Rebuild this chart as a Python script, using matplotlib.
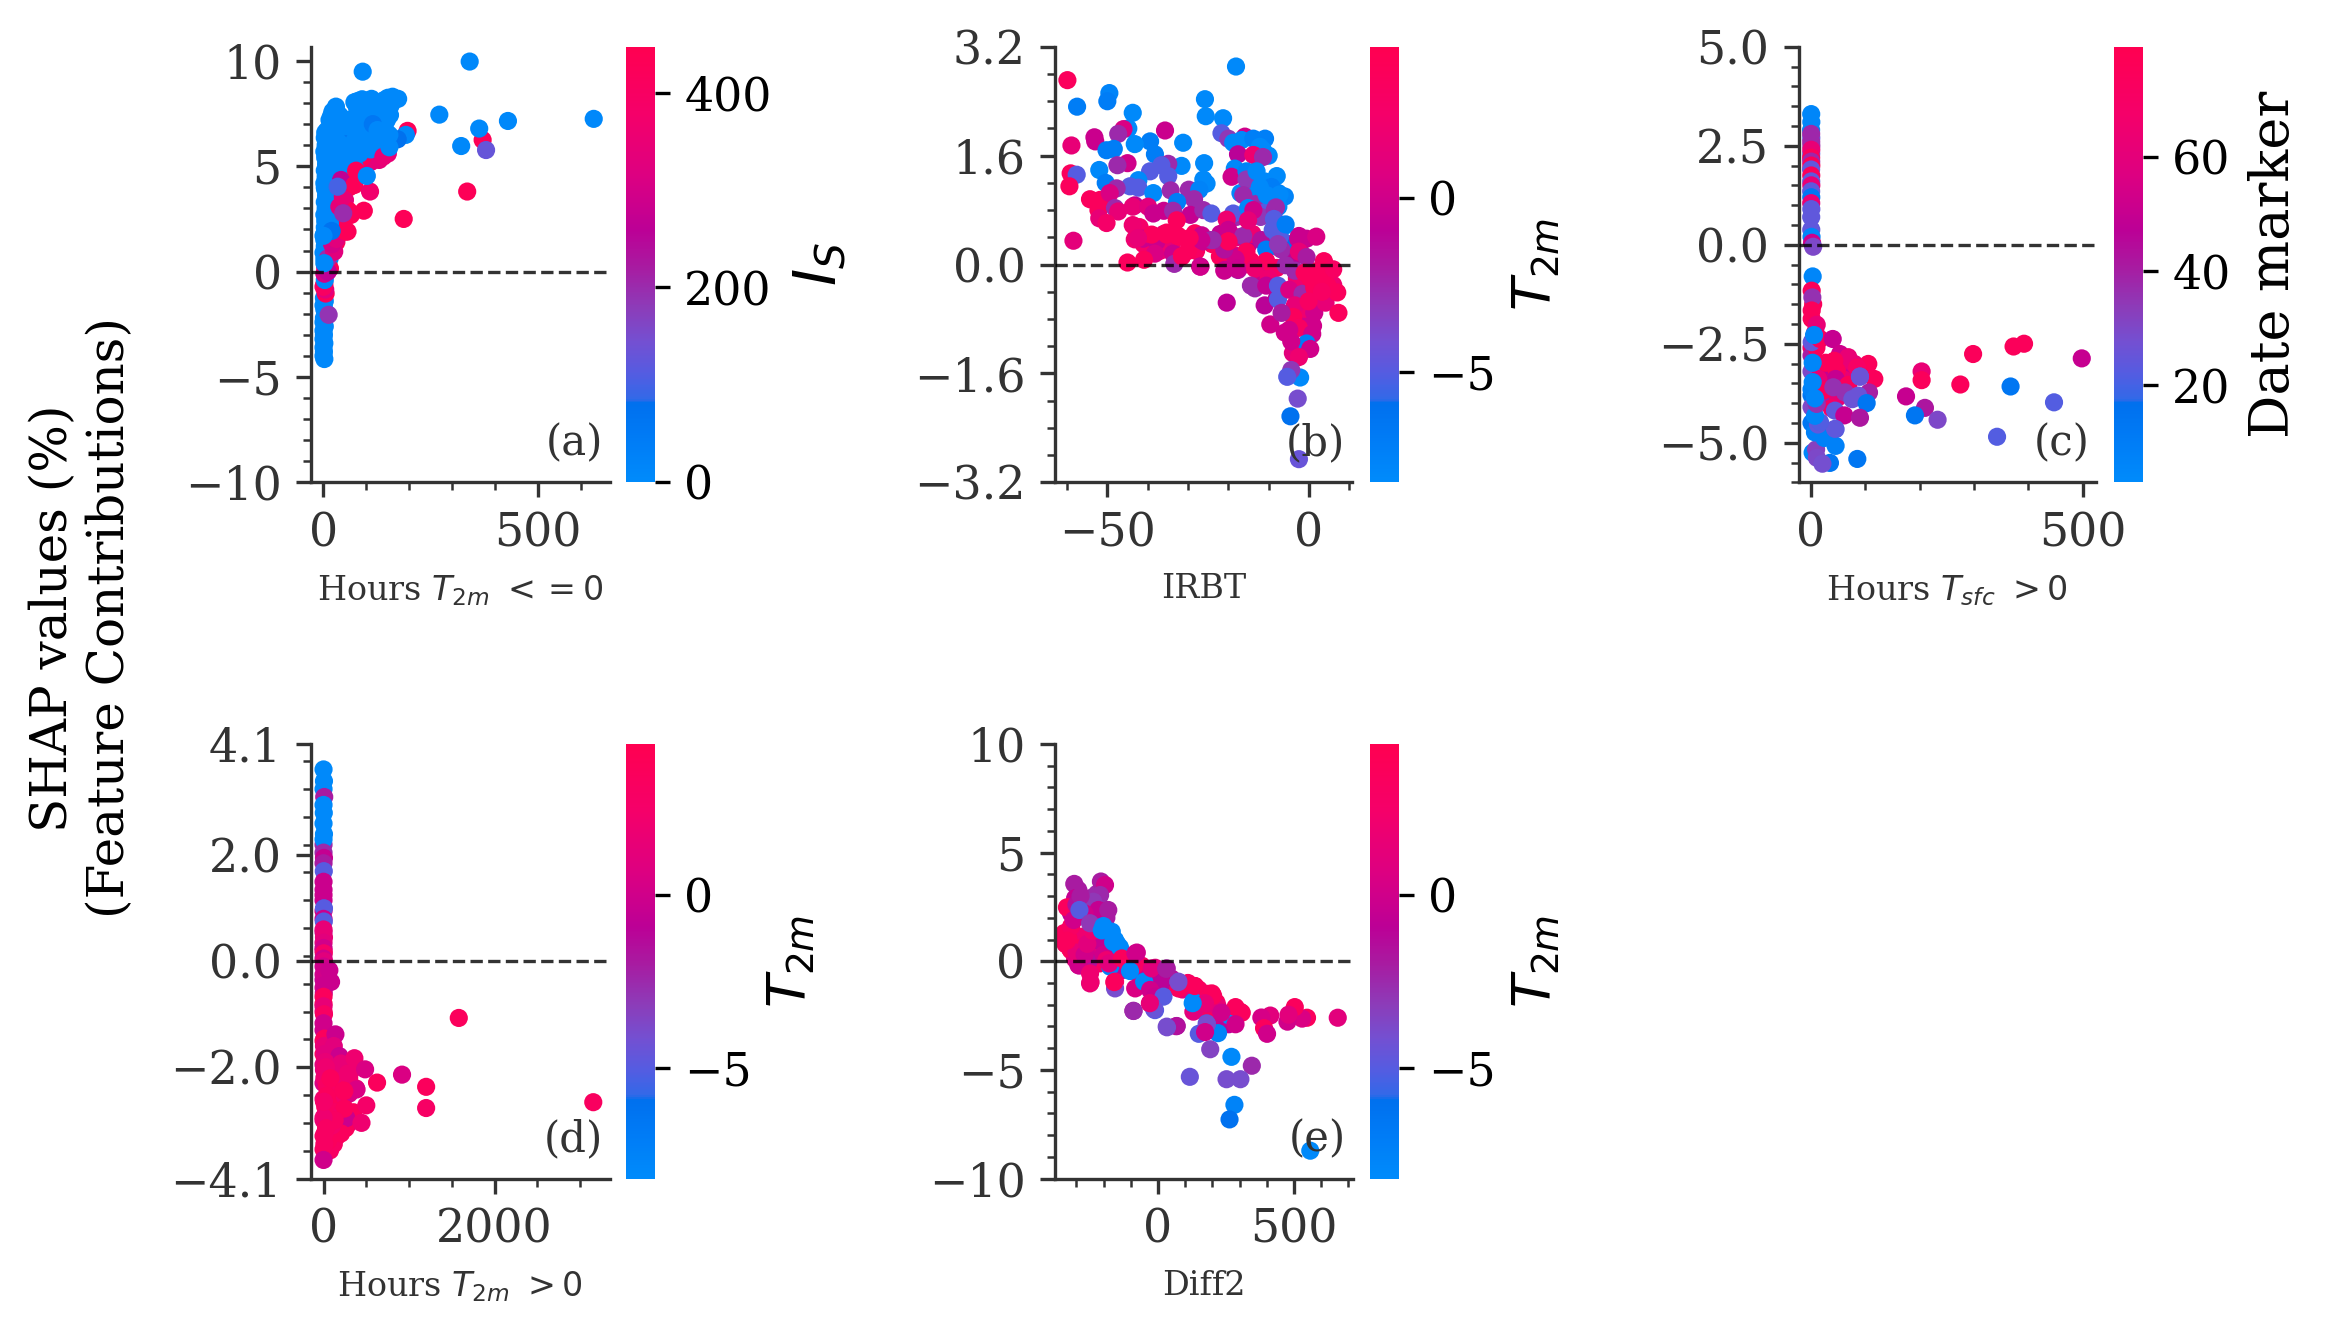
import matplotlib
matplotlib.use('Agg')
import matplotlib.pyplot as plt
from matplotlib.cm import ScalarMappable
from matplotlib.colors import LinearSegmentedColormap, Normalize
from matplotlib.ticker import AutoMinorLocator

plt.rcParams['font.family'] = ['DejaVu Serif']

# (a) Hours T2m <= 0, coloured by Is
a_x = [30, 35, 42, 50, 58, 60, 85, 110, 130, 150,
       90, 70, 60, 14, 15, 16, 15, 17, 18, 20,
       22, 28, 26,
       2, 0, 1, 0, 2, 0, 1, 0, 3, 0,
       1, 2, 0, 3, 1, 4, 2, 0, 3, 2,
       2, 3, 4, 2, 5, 3, 6, 4, 2, 5,
       3, 6, 4, 2, 5, 7, 3, 6, 4, 8,
       5, 3, 7, 10, 6, 4,
       12, 14, 11, 15, 13, 16, 12, 18, 14, 11,
       15, 19, 13, 17, 22, 12, 16, 20, 24, 14,
       18, 15, 21, 25, 17, 29, 31, 37,
       28, 33, 38, 30, 42, 36, 44, 32, 40, 27,
       35, 43, 29, 39, 46, 34, 41, 30, 45, 37,
       50, 56, 62, 68, 52, 58, 66, 72, 48, 55,
       63, 70, 76, 51, 60, 67, 74, 82, 54, 64,
       72, 80, 88, 72, 80, 78, 90,
       84, 92, 100, 108, 96, 104, 112, 120, 88, 98,
       110, 118, 126, 94, 106, 116, 130, 100, 112, 125,
       135, 142, 150, 138, 148, 155, 145, 161, 174, 157,
       12, 5, 4, 2, 0, 3, 2, 4, 15, 10,
       10, 25, 20, 30, 37, 45, 41, 56, 64, 94,
       52, 72, 76, 108.5, 196, 139.6, 187, 335, 371, 379,
       46, 33, 19, 101, 192, 173, 153.6, 115, 126, 153.6,
       91.4, 340.8, 270, 363, 321, 430, 630, 0, 2]
a_y = [1.4, 2.0, 2.2, 3.4, 2.9, 4.5, 5.0, 5.2, 5.3, 5.6,
       5.4, 4.6, 4.0, 0.6, 1.3, 1.8, 2.3, 2.8, 3.2, 3.6,
       4.0, 4.3, 3.8,
       -4.15, -4.0, -3.8, -3.6, -3.4, -3.2, -3.0, -2.8, -2.6, -2.4,
       -2.2, -1.8, -1.6, -1.4, -1.25, 0.3, 0.6, 0.9, 1.2, 1.5,
       1.8, 2.1, 2.4, 2.7, 3.0, 3.3, 3.6, 3.9, 4.2, 4.5,
       4.8, 5.1, 5.4, 5.7, 6.0, 6.2, 6.35, 6.5, 6.6, 6.7,
       5.5, 4.0, 4.7, 6.3, 2.9, 1.0,
       1.0, 1.5, 2.0, 2.5, 3.0, 3.5, 4.0, 4.5, 5.0, 5.5,
       6.0, 6.3, 6.6, 6.9, 7.1, 4.7, 5.3, 5.7, 6.4, 7.2,
       7.4, 6.8, 7.6, 7.5, 7.0, 7.83, 7.55, 7.43,
       4.0, 4.4, 4.8, 5.2, 5.6, 6.0, 6.4, 6.8, 7.1, 5.0,
       5.7, 6.2, 6.6, 6.9, 7.25, 7.2, 5.3, 5.9, 7.0, 4.6,
       5.2, 5.6, 6.0, 6.4, 6.8, 7.2, 7.1, 5.0, 5.5, 6.1,
       6.6, 7.0, 7.4, 7.2, 6.2, 6.7, 7.1, 7.5, 6.9, 5.8,
       6.2, 6.6, 7.0, 8.04, 8.1, 7.8, 8.18,
       5.6, 6.0, 6.4, 6.8, 7.2, 7.6, 8.2, 7.9, 7.4, 8.1,
       5.8, 6.3, 6.8, 7.7, 7.3, 7.0, 6.6, 8.0, 7.5, 6.1,
       7.6, 8.15, 8.25, 6.3, 7.2, 7.43, 6.7, 8.3, 8.2, 7.9,
       -2.05, -1.04, -0.85, -0.6, -0.72, -0.4, -0.1, 0.2, 0.15, 0.0,
       0.63, 0.95, 1.3, 1.55, 3.08, 3.56, 4.35, 1.9, 2.69, 2.89,
       1.9, 4.11, 4.79, 3.80, 6.68, 5.46, 2.50, 3.80, 6.25, 5.77,
       2.77, 4.03, 1.93, 4.54, 6.49, 6.28, 5.9, 7.0, 6.72, 6.49,
       9.49, 9.97, 7.45, 6.79, 5.96, 7.15, 7.25, 1.7, 0.4]
a_c = [430, 430, 430, 340, 430, 430, 340, 340, 340, 340,
       430, 265, 430, 10, 10, 10, 10, 10, 10, 10,
       10, 10, 10,
       10, 10, 10, 10, 10, 10, 10, 10, 10, 10,
       10, 10, 10, 10, 10, 10, 10, 10, 10, 10,
       10, 10, 10, 10, 10, 10, 10, 10, 10, 10,
       10, 10, 10, 10, 10, 10, 10, 10, 10, 10,
       10, 10, 10, 10, 10, 10,
       10, 10, 10, 10, 10, 10, 10, 10, 10, 10,
       10, 10, 10, 10, 10, 10, 10, 10, 10, 10,
       10, 10, 10, 10, 10, 10, 10, 10,
       10, 10, 10, 10, 10, 10, 10, 10, 10, 10,
       10, 10, 10, 10, 10, 10, 10, 10, 10, 10,
       10, 10, 10, 10, 10, 10, 10, 10, 10, 10,
       10, 10, 10, 10, 10, 70, 10, 10, 10, 10,
       10, 10, 10, 10, 10, 10, 10,
       10, 10, 10, 10, 10, 10, 10, 10, 10, 10,
       10, 10, 10, 10, 10, 10, 10, 10, 10, 10,
       10, 10, 10, 10, 10, 10, 10, 10, 10, 10,
       190, 430, 330, 430, 400, 10, 300, 350, 430, 265,
       200, 330, 300, 330, 340, 350, 265, 430, 430, 430,
       430, 430, 430, 370, 430, 350, 430, 430, 430, 130,
       200, 100, 70, 10, 10, 80, 10, 60, 10, 10,
       10, 10, 10, 10, 10, 10, 10, 10, 10]

# (b) IRBT, coloured by T2m
b_x = [-8, -6, -10, -12, -13, -10, -14, -17, -5, -4,
       1, 3, -1, -3, 0, 2, 6, -8, -12, -16,
       -19, -24, -28, -34, -37, -41, -36, -42, -2, -1,
       1, -6, -4, -8, -11, -10, -18, -22, -15, -18,
       -14, -30,
       -59.9, -57.5, -49.5, -50, -43.7, -44.8, -46, -47.3, -53.2, -53,
       -58.9, -35.7, -31.2, -39.4, -38.2, -43.2, -50.2, -48.4, -31.6, -26,
       -45, -47.5, -52, -39.4, -34.9, -36.6, -34.9, -59.1, -57.6, -59.4,
       -50.4, -42.3, -42.3, -44.4, -47.7, -38.6, -34.3, -29.8, -26.2, -25.4,
       -27.2, -28.5, -32.7, -54.3, -51.8, -49.4, -52.2, -48.1, -47.3, -52,
       -50.2, -43.2, -43.7, -39.9, -38.6, -36, -33.7, -29.4, -32.8, -26.2,
       -24.2, -18.8, -20.4, -20, -16.3, -43.7, -43.2, -41.1, -39, -37.8,
       -38.2, -35.3, -32.4, -29.9, -28.3, -26.6, -26.2, -24.2, -20, -20.9,
       -22.1, -17.6, -15.5, -11.8, -7.2, -7.2, -2.7, -2.3, -0.6, -58.4,
       -45, -40.9, -33.7, -31.6, -33.4, -27, -20.9, -17.6,
       -18.1, -25.8, -25.6, -21.3, -21.7, -20, -15.9, -18.8, -16.7, -13.8,
       -10.9, -12.2, -11.4, -17.6, -13.8, -11.4, -18.4, -19.2, -15.5, -15.5,
       -13, -10.9, -9.3, -7.6, -16.3, -10.5, -12.2, -15.1, -13.8, -15.1,
       -8.5, -7.6, -8.5, -6, -9, -10.6, -7.7, -6.8, -2.5, 1.8,
       -2.5, -0.6, 3.7, 6, -5.8, -3.5, -10.6, -14.4, -18.2, -21,
       -17.7, -13.4, -21, -20, -23.9, -26.7, -29.6, -32.4, -35.3, -39,
       -42.4, -31.5, -26.9, -14.4, -13.4, -10.6, -7.7, -7.7, -4.9, -1.6,
       -3.5, -3.9, -9.6, -6.8, 1.3, 4.1, 7, 7.3, 2.7, 1.3,
       4.6, 0.3, -1.1, 1.8, 3.2, -0.1, -20.4, -2.5, -4.9, 0.8,
       -0.6, -4.4, 0.3, -2.5, -2.2, -4.4, -5.4, -2.8, -4.6, -2.5,
       -7.3, -8.2, -8.7, -5.8, -7.7]
b_y = [1.3, 1.0, 0.9, 0.7, 1.0, 1.6, 1.15, 1.05, 0.3, 0.1,
       -0.1, -0.2, -0.25, -0.2, -0.45, -0.5, -0.3, -0.05, -0.15, 0.0,
       0.15, 0.3, 0.2, 0.3, 0.2, 0.3, 0.45, 0.55, -0.85, -0.65,
       -0.9, -1.0, -1.3, -0.5, -0.6, -0.2, 0.4, 0.45, 0.3, 0.7,
       0.45, 0.2,
       2.71, 2.32, 2.52, 2.40, 2.23, 2.0, 1.99, 1.92, 1.87, 1.81,
       1.75, 1.97, 1.79, 1.81, 1.62, 1.77, 1.68, 1.70, 1.45, 1.49,
       1.49, 1.46, 1.39, 1.37, 1.48, 1.46, 1.30, 1.34, 1.32, 1.15,
       1.20, 1.24, 1.13, 1.15, 1.12, 1.05, 1.09, 1.1, 1.25, 1.19,
       1.1, 0.96, 0.92, 0.96, 0.95, 1.05, 0.80, 0.83, 0.78, 0.68,
       0.61, 0.87, 0.85, 0.85, 0.75, 0.79, 0.79, 0.73, 0.65, 0.8,
       0.75, 0.75, 0.66, 0.51, 0.42, 0.58, 0.37, 0.38, 0.43, 0.34,
       0.16, 0.47, 0.41, 0.35, 0.46, 0.43, 0.34, 0.36, 0.34, 0.24,
       0.12, 0.12, 0.19, 0.36, 0.41, 0.24, 0.38, 0.21, 0.38, 0.35,
       0.03, 0.07, 0.16, 0.12, 0.01, -0.03, -0.08, -0.08,
       2.91, 2.43, 2.18, 2.15, 1.93, 1.85, 1.88, 1.79, 1.83, 1.85,
       1.85, 1.73, 1.68, 1.62, 1.61, 1.58, 1.41, 1.29, 1.37, 1.25,
       1.37, 1.22, 1.14, 1.05, 1.02, 1.02, 1.14, 0.83, 0.80, 0.65,
       0.80, 0.85, 0.65, 0.57, 0.51, 0.22, 0.42, 0.22, 0.42, 0.41,
       0.19, 0.11, 0.05, -0.07, -0.01, -0.09, 0.05, 0.05, 0.08, -0.09,
       -0.06, -0.06, 0.22, 0.34, 0.36, 0.36, 0.39, 0.42, 0.44, 0.44,
       0.39, 0.12, -0.03, -0.31, -0.35, -0.31, -0.31, -0.51, -0.37, -0.43,
       -0.60, -0.77, -0.88, -0.71, -0.71, -0.56, -0.41, -0.71, -0.23, -0.34,
       -0.31, -0.20, -0.12, -0.12, -0.40, -0.54, -0.56, -0.93, -0.96, -1.02,
       -1.16, -1.13, -1.24, -1.36, -1.66, -1.55, -1.65, -1.97, -2.23, -2.86,
       1.03, 0.84, 0.67, 0.59, 0.30]
b_c = [-8, -7.5, -5, -3, -2.5, -8, -8, -8, -6, -1,
       3.5, 3.5, 3.5, 2, 3.5, 3, 2, 3, -0.3, 3.5,
       3.5, 3.5, 3, 1.5, 2, 2.5, 1.5, 2.5, 0, 2,
       0, 0, 1, -1, -1, 2, 1, -0.5, -1, -2.5,
       2, 3.5,
       3.5, -7, -7.6, -7, -8, -8, 0.5, -2.5, -0.3, -0.3,
       1.5, -0.3, -8, -7, -7, -8, -7, -7, -8, -8,
       0, -2.5, -8, -5, -2.5, -5, -5, 3.5, -5, 3.5,
       -7, -8, -5, -5, -2.5, -8, -2.5, -2.5, -8, -8,
       -7.5, -2.5, -7, 3.5, 3.5, 0.5, 3.5, -2.5, 1.5, 1.5,
       2.5, -1, 1.5, 1, -0.3, -0.3, -2.5, -0.5, 3.5, -2.5,
       -5, -5, 2, -0.3, -2.5, 2, 2, -0.3, 2, -0.3,
       0.5, 3.5, 3.5, 3.5, 3.5, -0.3, -0.3, -2.5, 3.5, -0.3,
       3.5, -0.3, 3.5, -1.5, -5, -2.5, -0.3, 1.5, -0.3, 1.2,
       3.5, 3.5, -0.3, 3.5, -2.5, -0.3, -0.3, -1.5,
       -8, -8, -8, -8, -5, -3, 0, -8, -8, -7.2,
       -7.2, -8, -8, -1, 2, -2.5, -8, 0, -7.5, -3,
       -8, -8, -7, -7, -2.5, -8, -8, -8, 0, 1.5,
       -2.5, -8, -5, -7.5, -5, -7, -5, -2.5, -0.3, 0.5,
       1.5, -2, 3.5, 3, -2.5, -2.5, 3.5, 3.5, 0, -0.3,
       -0.3, 2, -1.5, 3.5, -2.5, -0.3, 3.5, 3.5, 3.5, 3.5,
       1.5, 3.5, 0, -2.5, -2.5, -0.5, -5, -5, 0.5, -2.5,
       1.5, 3.5, 0, -2, 0, 1.5, 3.5, 3.5, 3.5, 3.5,
       3.5, 3.5, 3.5, 3.5, 3, 3, -0.8, 3, 0, 0,
       -7, 0, 0, 2, -8, -3, -5, -4, -6, -4.5,
       -8, -2.5, -5, -7, -3]

# (c) Hours Tsfc > 0, coloured by the date marker
c_x = [15, 25, 35, 55, 70, 80, 30, 40, 50, 60,
       20, 15, 1, 1, 1, 1, 1, 1, 1, 8,
       4, 10, 30, 50, 70, 3,
       0.4, 0.6, 0.2, 0.5, 0.4, 0.3, 0.6, 0.4, 0.5, 0.3,
       0.4, 0.6, 0.2, 0.5, 0.4, 0.6, 0.3, 0.5, 0.4, 0.6,
       0.4, 0.5, 1.0, 2.0, 4.0,
       3.1, 1.3, 2.5, 1.3, 1.3, 10.5, 1.3, 16.6, 40, 53.4,
       68.7, 79.8, 105.5, 116.6, 43, 27, 47.3, 45.4, 13.5, 85,
       22.7, 68.7, 41.1, 62.6, 90.2, 106.8, 87.1, 76.1, 102.5, 38,
       44.2, 61.4, 90.2, 175, 203.7, 203.7, 209.8, 191.4, 233.1, 298.5,
       373, 392.3, 498.6, 275, 367.5, 447.5, 342.6, 85.3, 45.3, 45.3,
       34.9, 9.4, 10.8, 21, 24.5, 7.3, 12.8, 44.2, 16.6, 7.4,
       10.5, 7.4, 3.1, 5.6, 3.1, 90.2]
c_y = [-3.0, -3.1, -3.2, -3.0, -3.1, -3.25, -3.5, -3.7, -3.55, -3.4,
       -3.75, -3.2, -2.6, -2.8, -3.2, -3.8, -3.65, -4.1, -4.5, -2.2,
       -1.5, -2.6, -3.85, -3.85, -3.7, -5.25,
       3.30, 3.1, 2.9, 2.7, 2.6, 2.8, 2.5, 2.3, 2.4, 2.2,
       2.1, 2.0, 1.9, 1.75, 1.6, 1.5, 1.35, 1.2, 1.05, 0.9,
       0.7, 0.38, 0.2, 0.05, -0.05,
       -0.8, -1.16, -1.33, -1.66, -1.87, -2.02, -2.46, -2.38, -2.38, -2.76,
       -2.84, -3.01, -3.01, -3.39, -2.93, -2.98, -3.18, -3.39, -3.39, -3.1,
       -3.68, -3.54, -3.6, -3.73, -3.33, -3.73, -3.81, -3.9, -4.0, -4.13,
       -4.19, -4.31, -4.37, -3.83, -3.2, -3.42, -4.12, -4.31, -4.42, -2.76,
       -2.57, -2.5, -2.87, -3.53, -3.58, -3.98, -4.85, -5.41, -4.66, -5.08,
       -5.51, -5.17, -5.38, -5.53, -4.88, -4.74, -4.54, -4.65, -4.48, -4.32,
       -4.02, -3.88, -3.47, -2.28, -2.98, -3.33]
c_c = [75, 75, 75, 62, 62, 50, 62, 62, 50, 62,
       75, 50, 70, 40, 30, 14, 8, 30, 14, 70,
       75, 75, 40, 62, 50, 6,
       6, 6, 6, 24, 38, 38, 38, 24, 62, 75,
       38, 75, 24, 75, 24, 62, 24, 14, 62, 24,
       24, 24, 6, 52, 30,
       6, 75, 36, 75, 75, 62, 24, 75, 50, 52,
       62, 62, 75, 75, 75, 75, 75, 50, 62, 70,
       75, 75, 36, 36, 24, 40, 26, 26, 14, 70,
       24, 50, 42, 50, 62, 75, 42, 14, 30, 75,
       75, 75, 50, 75, 14, 22, 22, 14, 22, 8,
       14, 32, 30, 28, 8, 8, 24, 24, 22, 6,
       36, 6, 6, 6, 6, 26]

# (d) Hours T2m > 0, coloured by T2m
d_x = [60, 100, 150, 200, 120, 180, 250, 300, 60, 40,
       90, 140, 190, 300, 350, 260, 30, 80, 120, 160,
       0, 0, 0, 0, 0, 0, 0, 0, 0, 0,
       300, 330, 0, 0, 0, 0,
       0, 5, 0, 8, 0, 3, 0, 5, 0, 0,
       0, 5, 0, 3, 0, 0, 0, 5, 0, 3,
       0, 5, 0, 0, 3, 0, 5, 0, 0, 3,
       0, 0, 68, 88, 10, 0, 0, 5, 0, 0,
       10, 5, 139, 15, 120, 185, 20, 5, 10, 205,
       30, 283, 40, 361, 80, 380, 500, 486, 626, 918,
       1200, 1200, 1582, 3155, 232, 243, 267, 444, 205, 148,
       244, 386, 243, 37, 76, 52, 14, 60, 100, 130,
       20, 0, 10, 30, 5, 0]
d_y = [-1.85, -2.1, -2.3, -2.2, -2.6, -2.7, -2.55, -2.5, -2.4, -2.75,
       -2.85, -3.0, -3.1, -3.05, -2.85, -3.15, -3.2, -3.3, -3.45, -3.3,
       -1.95, -2.3, -2.6, -3.0, -3.3, -3.55, -0.5, -0.35, -1.5, -1.75,
       -2.2, -2.05, 1.25, 0.95, 0.55, 0.2,
       3.62, 3.4, 3.25, 3.1, 2.95, 2.8, 2.6, 2.4, 2.2, 2.3,
       2.05, 1.95, 1.85, 1.7, 1.5, 1.35, 1.15, 1.0, 0.8, 0.75,
       0.6, 0.45, 0.35, 0.25, 0.15, 0.05, 0.0, -0.1, -0.25, -0.6,
       -0.8, -0.95, -0.17, -0.39, -0.45, -0.67, -0.85, -1.0, -1.17, -1.3,
       -1.46, -1.6, -1.38, -1.75, -1.6, -1.79, -1.9, -2.05, -2.2, -1.93,
       -2.0, -2.12, -2.35, -1.83, -2.21, -2.4, -2.72, -2.04, -2.29, -2.14,
       -2.37, -2.77, -1.07, -2.66, -2.44, -2.81, -2.96, -3.05, -3.25, -2.85,
       -2.78, -2.42, -2.45, -2.54, -3.57, -3.39, -3.25, -2.9, -3.1, -3.0,
       -2.75, -2.95, -3.45, -3.15, -2.65, -3.75]
d_c = [1, 2, 3.5, 2, 3, 3.5, 2.5, 0.5, 1.5, 3.5,
       3, 2.5, 3.5, 0, 3.5, 3.5, 3, 3.5, 3, 3,
       1, 0.5, 2, 1.5, 3, 3, 0, -0.5, 3.5, 3.5,
       2.5, 2, 0, 0, 0, 1.5,
       -8, -8, -8, -2, -8, -8, -8, -8, -2.5, -8,
       -2.5, -0.5, -2, -5, -0.3, -0.3, -0.3, -5, -0.3, -5,
       1.5, 1.5, 1, 0, 2.5, 0, 1, 0, 0, 0,
       3.5, 2, -0.3, -0.3, -0.3, 3.5, 1.5, 3, 0, 0,
       3.5, 1.5, -0.3, 1, 1, -0.3, 1.5, 1.5, 2, 1.5,
       2, 2, 3, 2, 3.5, 2, 2.5, 0.5, 3.5, 0.5,
       3.5, 2.8, 3.5, 3.2, 3.5, 3.5, -0.3, 2, 3.5, 3,
       3.5, 0.5, 3.5, 3.5, 3, 3.5, 3, 2.5, 2.5, 3,
       3, 2, 3, 3, 2.5, 0]

# (e) Diff2, coloured by T2m
e_x = [-340, -330, -320, -310, -300, -290, -280, -340, -320, -305,
       -290, -270, -240, -230, -215, -200, -180, -160, -150, -130,
       -110, -60, -40, -10, -70, -40, 0, 50, 55, 90,
       110, 150, 165, 185, 215, 150, 200, 220, 240, 260,
       -260, -250, -225, -200, -190, -300, -320, -285, -275, -230,
       -215, -180, -150,
       -308, -293, -210, -195, -305, -330, -311, -213, -238, -219,
       -183, -335, -281, -330, -324, -293, -225, -256, -293, -250,
       -250, -176, -345, -340, -320, -310, -300, -335, -270, -260,
       -240, -200, -190, -180, -300, -285, -270,
       -289, -250, -201, -170, -158, -140, -207, -165,
       -78, -133, -84, -103, -158, -158, -84, -51, -23, 32,
       20, 75, 75, 136, -29, -11, 20, -29, -11, -90.6,
       198, 130, 130, 179, 240, 265, 283, 302, 179, 32,
       69, 263, 220.6, 150, 180, 192, 270, 345, 117, 252,
       303, 281, 263, 560, 661, 548, 530, 476, 503, 480,
       413, 380, 390, 401, 308, 285, 285, 233, 173, 67,
       33, -15, -90, -30, 202.5, 172.5, 127.5, 135, 78, 75,
       30, -83, -248, -161]
e_y = [1.1, 0.7, 1.3, 0.9, 0.65, 1.0, 0.5, 0.8, 0.5, 0.1,
       -0.2, -0.1, 0.4, 0.0, -0.1, 0.5, 0.2, -0.2, -0.4, -0.4,
       -0.1, -0.2, -0.35, -0.3, -0.6, -0.6, -0.7, -0.8, -1.1, -1.3,
       -1.0, -1.3, -1.7, -1.5, -1.9, -2.2, -2.3, -2.1, -2.7, -2.9,
       2.5, 2.9, 3.1, 2.4, 2.0, 2.3, 2.2, 2.4, 2.2, 1.9,
       1.65, 1.1, 0.8,
       3.56, 3.28, 3.67, 3.51, 2.9, 2.47, 2.13, 3.05, 2.74, 2.36,
       2.36, 2.48, 1.13, 1.06, 0.59, 0.59, 0.98, -0.02, -0.17, -0.56,
       -1.02, -0.25, 1.3, 0.8, 1.6, 1.9, 0.4, 0.95, 0.3, 0.8,
       1.4, 0.3, 0.05, -0.1, 2.6, 3.0, 2.2,
       2.36, 1.75, 1.62, 1.36, 0.98, 0.64, 1.42, 0.89,
       0.4, 0.13, -0.17, -0.45, -0.94, -1.25, -1.25, -0.94, -0.33, -0.33,
       -0.94, -0.94, -1.25, -1.14, -1.32, -1.63, -1.63, -1.94, -2.25, -2.28,
       -1.48, -1.86, -2.32, -1.94, -2.4, -2.48, -2.25, -2.32, -2.86, -3.01,
       -2.98, -2.5, -3.31, -3.34, -2.9, -4.05, -4.4, -4.81, -5.32, -5.43,
       -5.43, -6.61, -7.28, -8.72, -2.6, -2.6, -2.64, -2.78, -2.11, -2.46,
       -2.5, -2.59, -3.08, -3.34, -2.37, -2.11, -2.9, -2.37, -3.26, -2.99,
       -3.04, -2.2, -2.29, -1.93, -1.58, -1.93, -1.93, -1.14, -1.23, -0.96,
       -0.35, 0.36, -0.96, -0.96]
e_c = [3.5, 3.5, 3.5, 3.5, 3.5, 3, 2.5, 3.5, 3.5, 1,
       -0.3, -1, 0, 0, 3, 1, 0, -1, 2, -0.5,
       3, 3, 2, 1, 1, -0.5, -1, -1.5, 1, 1,
       3, 3, 3.5, 3, 3.5, 2, 3.5, 1.5, 0, -1,
       -2.5, -2, -2.5, -1, -2, -0.3, -1, -6, -5, -3.5,
       -7, -8, -8,
       -2, -2, -2, 0, -0.5, 3.5, -0.5, -2.5, -3, -0.5,
       -2, 3.5, 2, 3.5, 3.5, 3.5, -0.5, -1.5, 0, 2,
       1.5, -7.5, 3.5, 3.5, 3, 0, 1.5, 3.5, 0, 1,
       2, 0, 2, 1, -1.5, -2, 0,
       -5, -3, -8, -8, -8, -8, -8, -8,
       0, 3.5, 3, -8, 2.5, -4, 0.5, -8, 1, -2,
       -1, -4, 3.5, 3.5, 0, -0.3, -5, 1, -5, -2,
       3.5, -8, 1, 1, -1, -8, 3.5, 3.5, -5, -4,
       -2, -8, -7.5, -5, -4, -3.5, -8, -2.5, -4.5, -4,
       -4, -7.5, -6, -8, 1, 3.5, 0.5, 0, 3.5, 1,
       1, 0.3, 3.5, 0, 3.5, 3.5, 0, 0, 0, -1.5,
       -4, -4.5, -2.5, 1.5, 3.5, 1.5, -8, 3.5, 3.5, -4,
       -2, 0, 2, 3.5]

x_labels = [r'Hours $T_{2m}$ $<=0$', 'IRBT', r'Hours $T_{sfc}$ $>0$',
            r'Hours $T_{2m}$ $>0$', 'Diff2']
panel_tags = ['(a)', '(b)', '(c)', '(d)', '(e)']
cbar_labels = [r'$I_S$', r'$T_{2m}$', 'Date marker', r'$T_{2m}$', r'$T_{2m}$']

# blue to red ramp used by every colour scale
stops = [(0.0, (0, 139, 251)), (0.11, (0, 122, 245)), (0.18, (0, 112, 238)),
         (0.19, (50, 105, 232)), (0.25, (85, 92, 225)), (0.32, (115, 80, 210)),
         (0.40, (140, 60, 185)), (0.50, (170, 25, 160)), (0.58, (188, 0, 150)),
         (0.70, (220, 0, 130)), (0.85, (245, 0, 105)), (1.0, (255, 0, 81))]
red_blue = LinearSegmentedColormap.from_list(
    'red_blue', [(p, tuple(v / 255 for v in rgb)) for p, rgb in stops])

W, H = 2328, 1335
DARK = '#333333'


def add_axes_px(fig, left, top, right, bottom):
    return fig.add_axes([left / W, 1 - bottom / H, (right - left) / W, (bottom - top) / H])


def shap_panel(fig, box, bar, x, y, c, tag, xlabel, clabel, clabel_x,
               xlim, ylim, xticks, yticks, xdiv, ydiv, clim, cticks, clabel_size):
    ax = add_axes_px(fig, *box)
    ax.scatter(x, y, c=c, s=19, linewidths=0, cmap=red_blue,
               vmin=clim[0], vmax=clim[1], zorder=2, clip_on=False)
    ax.axhline(0, color='k', lw=0.8, ls='--', alpha=0.8, zorder=3)
    ax.set_xlim(xlim)
    ax.set_ylim(ylim)
    ax.set_xticks(xticks)
    ax.set_yticks(yticks)
    ax.xaxis.set_minor_locator(AutoMinorLocator(xdiv))
    ax.yaxis.set_minor_locator(AutoMinorLocator(ydiv))
    ax.spines['top'].set_visible(False)
    ax.spines['right'].set_visible(False)
    ax.spines['left'].set_color(DARK)
    ax.spines['bottom'].set_color(DARK)
    ax.tick_params(which='both', colors=DARK, labelsize=11)
    ax.set_xlabel(xlabel, fontsize=8, color=DARK, labelpad=4)
    ax.text(0.978, 0.09, tag, transform=ax.transAxes, ha='right', va='center',
            fontsize=10, color=DARK, zorder=4)

    cax = add_axes_px(fig, bar[0], box[1], bar[1], box[3])
    sm = ScalarMappable(norm=Normalize(*clim), cmap=red_blue)
    cb = fig.colorbar(sm, cax=cax)
    cb.outline.set_visible(False)
    cb.set_ticks(cticks)
    cax.tick_params(labelsize=11)
    cb.set_label(clabel, fontsize=clabel_size)
    cax.yaxis.set_label_coords((clabel_x - bar[0]) / (bar[1] - bar[0]), 0.5)


def main():
    fig = plt.figure(figsize=(W / 300, H / 300), dpi=300)

    shap_panel(fig, (310.8, 46.8, 609.6, 482.3), (626, 655), a_x, a_y, a_c,
               panel_tags[0], x_labels[0], cbar_labels[0], 791,
               (-29.6, 667), (-10, 10.67), [0, 500], [-10, -5, 0, 5, 10], 5, 5,
               (0, 447), [0, 200, 400], 14)
    shap_panel(fig, (1054.9, 46.8, 1352, 482.3), (1370, 1399), b_x, b_y, b_c,
               panel_tags[1], x_labels[1], cbar_labels[1], 1510,
               (-63, 10.66), (-3.2, 3.2), [-50, 0], [-3.2, -1.6, 0, 1.6, 3.2], 5, 4,
               (-8.17, 4.34), [-5, 0], 13)
    shap_panel(fig, (1798.5, 46.8, 2096, 482.3), (2113.8, 2143), c_x, c_y, c_c,
               panel_tags[2], x_labels[2], cbar_labels[2], 2248,
               (-23, 524.8), (-6, 5), [0, 500], [-5, -2.5, 0, 2.5, 5], 5, 5,
               (3.08, 79.2), [20, 40, 60], 13)
    shap_panel(fig, (310.8, 744, 609.6, 1178.5), (626, 655), d_x, d_y, d_c,
               panel_tags[3], x_labels[3], cbar_labels[3], 765,
               (-149, 3346), (-4.1, 4.1), [0, 2000], [-4.1, -2, 0, 2, 4.1], 4, 4,
               (-8.2, 4.36), [-5, 0], 13)
    shap_panel(fig, (1054.7, 744, 1352.7, 1178.5), (1369.8, 1399), e_x, e_y, e_c,
               panel_tags[4], x_labels[4], cbar_labels[4], 1510,
               (-380, 716), (-10, 10), [0, 500], [-10, -5, 0, 5, 10], 5, 5,
               (-8.2, 4.36), [-5, 0], 13)

    fig.text(82 / W, 1 - 618 / H, 'SHAP values (%)\n(Feature Contributions)',
             rotation=90, ha='center', va='center', fontsize=12, color='k', linespacing=1.2)

    fig.savefig('out.png', dpi=300)


if __name__ == '__main__':
    main()
